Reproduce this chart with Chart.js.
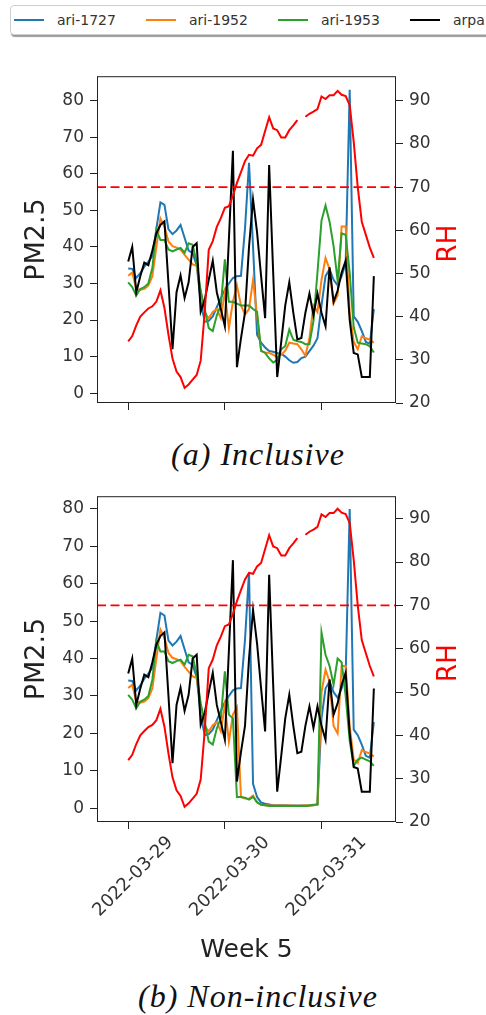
<!DOCTYPE html>
<html>
<head>
<meta charset="utf-8">
<script src="https://cdn.jsdelivr.net/npm/chart.js@4.4.1/dist/chart.umd.min.js"></script>
<style>
  body { margin: 0; width: 486px; height: 1015px; background: #fff; position: relative; overflow: hidden; font-family: 'DejaVu Sans', sans-serif; }
  #legend { position: absolute; left: 10px; top: 5px; width: 530px; height: 30px; border: 1px solid #cfcfcf; border-radius: 4px;
            box-shadow: 1px 2px 1px #9a9a9a; display: flex; align-items: center; padding-left: 3px; box-sizing: border-box; background: #fff; }
  .item { display: flex; align-items: center; width: 132px; flex: none; }
  .item .line { width: 30px; height: 2px; margin-right: 13px; }
  .item .txt { font-size: 14px; color: #333; }
  canvas { position: absolute; left: 0; }
  .cap { position: absolute; left: 0; width: 516px; text-align: center; font-family: 'Liberation Serif', serif;
         font-style: italic; font-size: 32px; letter-spacing: 1px; color: #111; line-height: 1; }
</style>
</head>
<body>
<div id="legend"></div>
<canvas id="chartA" width="486" height="360" style="top:60px"></canvas>
<div class="cap" style="top:438px">(a) Inclusive</div>
<canvas id="chartB" width="486" height="485" style="top:480px"></canvas>
<div class="cap" style="top:980px">(b) Non-inclusive</div>

<script>
// heures depuis 2022-03-29 00:00
const hours = [0,1,2,3,4,5,6,7,8,9,10,11,12,13,14,15,16,17,18,19,20,21,22,23,24,25,26,27,28,29,
  30,31,32,33,34,35,36,37,38,39,40,41,42,43,44,45,46,47,48,49,50,51,52,53,54,55,56,57,58,59,60,61];
const dayTicks = [0, 24, 48];
const dayLabels = ['2022-03-29', '2022-03-30', '2022-03-31'];
const pmTicks = [0, 10, 20, 30, 40, 50, 60, 70, 80];
const rhTicks = [20, 30, 40, 50, 60, 70, 80, 90];

const seriesNames = ['ari-1727', 'ari-1952', 'ari-1953', 'arpa'];
const seriesColors = ['#1f77b4', '#ff7f0e', '#2ca02c', '#000000'];
const rhColor = '#ff0000';
const rhThreshold = 70;

// (a) Inclusive
const blueA = [34.1,34,31.5,32.8,34.6,36,37.5,45,52.2,51.5,44.8,43.5,44.5,46,42.5,39,38.3,35,25,19.5,
  19.8,21,23.5,26,28.3,30,31.5,32,32.1,45,63,40,16,13.8,12.5,11.5,11.3,11,10.8,10,
  9,8.3,8.5,9.6,10,11.5,13,15,24,32,33.9,31,29.5,32,35.5,83,21,19.5,17,14,13.5,23];
const orangeA = [32.1,33,28.5,28.2,28.5,29.4,32,40,47.8,45.5,41.5,40.2,39.8,39.3,37.8,36.5,35.2,34.8,27.6,22,
  20.5,22.2,23,20.5,27.6,17.8,25,29.5,24,21.5,23,31,21.3,11.5,11.1,11,10.5,9.8,10.5,11.6,
  13.8,13.6,13.4,12,10.2,15,24,22.2,31,37,33.9,24.5,26.7,45.6,45.6,22,14,12,15.5,15,14.6,13.8];
const greenA = [30.3,29,26.7,28.5,29,30,34.3,44.6,41.9,41.9,39.3,38.8,39.3,39.7,38.4,41,40.6,35.7,28,23,
  17.8,17,21.3,24,36.6,25,25,24.5,24,24,24,23,22.2,11.6,11,9.5,8.4,9,12,12.9,
  17.4,14.6,14.2,14,13.4,13.4,19.7,33,47.2,51.3,46.9,40.2,30.8,43.7,43.3,33,18,13.8,13.6,13.4,12.8,11.1];

// (b) Non-inclusive
const blueB = [34.1,34,31.5,32.8,34.6,36,37.5,45,52.2,51.5,44.8,43.5,44.5,46,42.5,39,38.3,35,25,19.5,
  19.8,21,23.5,26,28.3,30,31.5,32,32.1,45,63,6.5,3,1.5,1.2,1,0.8,0.8,0.8,0.8,
  0.7,0.7,0.7,0.7,0.7,0.7,0.8,1,24,32,33.9,31,29.5,32,35.5,80,21,19.5,17,14,13.5,23];
const orangeB = [32.1,33,28.5,28.2,28.5,29.4,32,40,47.8,45.5,41.5,40.2,39.8,39.3,37.8,36.5,35.2,34.8,27.6,22,
  20.5,22.2,23,20.5,27.6,17.8,25,27,3,2.6,2.5,3.4,1.5,0.9,0.8,0.7,0.7,0.7,0.7,0.7,
  0.7,0.7,0.6,0.7,0.7,0.7,0.8,1,31,37,33.9,22,20,38,38,22,13,12,15.5,15,14.6,13.8];
const greenB = [30.3,29,26.7,28.5,29,30,34.3,44.6,41.9,41.9,39.3,38.8,39.3,39.7,38.4,41,40.6,35.7,28,23,
  17.8,17,21.3,24,36.6,25,24,3,3,2.8,2.3,3,1.6,0.9,0.8,0.6,0.6,0.6,0.6,0.6,
  0.6,0.6,0.6,0.6,0.6,0.7,0.9,1,47,41,38,33,40,39,30,18,11.3,13,13.5,13,12.5,11.3];

// commun aux deux
const arpa = [36,40,27.6,32,35.7,35,39,43.7,46,47,30,12,27.6,32.2,26,30.3,40,41,22.3,25.5,
  31,36.2,27.6,23,18.3,42,66.3,7.1,15,22,40,53,44,32,20.5,62.4,33,4.4,14,24,
  30.3,22,14.7,15.1,22,27.2,21.4,27.2,22,18.3,34.4,25,28,33,36.2,20,11,10.6,4.4,4.4,4.4,32];
const rh = [34.3,35.5,38,40,41,41.9,42.4,43.5,46.1,42,35.8,30.3,27.3,26,23.5,24.3,25.4,26.5,29.8,41,
  55.5,57.5,60.8,62.8,65.2,65.6,68,71,73.5,76,77.5,77.3,79,79.8,83,86.2,83.6,83.2,81.5,81.5,
  83.2,84.3,85.5,null,86.3,87,87.5,88.1,91,90.4,91.3,91.3,92.3,91.4,91.1,89,80.5,70,62,59,56,53.6];

const xMin = -7.75, xMax = 66.5;

// legende commune
const legend = document.getElementById('legend');
seriesNames.forEach((name, i) => {
  const it = document.createElement('div');
  it.className = 'item';
  it.innerHTML = '<span class="line" style="background:' + seriesColors[i] + '"></span><span class="txt">' + name + '</span>';
  legend.appendChild(it);
});

// cadre du graphe (spines) + titre RH tourne comme matplotlib
const frame = {
  id: 'frame',
  afterDraw(chart) {
    const { ctx, chartArea: a } = chart;
    ctx.save();
    ctx.strokeStyle = '#222';
    ctx.lineWidth = 1;
    ctx.strokeRect(a.left + 0.5, a.top + 0.5, a.width - 1, a.height - 1);
    ctx.translate(449, (a.top + a.bottom) / 2 + 4);
    ctx.rotate(-Math.PI / 2);
    ctx.fillStyle = rhColor;
    ctx.font = "26px 'DejaVu Sans'";
    ctx.textAlign = 'center';
    ctx.textBaseline = 'middle';
    ctx.fillText('RH', 0, 0);
    ctx.restore();
  }
};

Chart.defaults.font.family = "'DejaVu Sans', sans-serif";

function makeChart(id, pmSeries, cfg) {
  const datasets = pmSeries.map((vals, i) => ({
    label: seriesNames[i],
    data: vals,
    borderColor: seriesColors[i],
    borderWidth: 2,
    pointRadius: 0,
    yAxisID: 'pm',
    order: 6 - i
  }));
  datasets.push({
    label: 'RH', data: rh, borderColor: rhColor, borderWidth: 2,
    pointRadius: 0, yAxisID: 'rh', order: 2
  });
  datasets.push({
    label: 'seuil', data: [{ x: xMin, y: rhThreshold }, { x: xMax, y: rhThreshold }],
    borderColor: rhColor, borderWidth: 1.7, borderDash: [9, 4.5],
    pointRadius: 0, yAxisID: 'rh', order: 1
  });

  return new Chart(document.getElementById(id), {
    type: 'line',
    data: { labels: hours, datasets: datasets },
    options: {
      responsive: false,
      animation: false,
      layout: { padding: { top: cfg.top, left: 0, right: 0, bottom: 0 } },
      plugins: { legend: { display: false }, tooltip: { enabled: false } },
      scales: {
        x: {
          type: 'linear', min: xMin, max: xMax,
          afterBuildTicks: s => { s.ticks = dayTicks.map(v => ({ value: v })); },
          afterFit: s => { s.height = cfg.xHeight; },
          grid: { drawOnChartArea: false, drawTicks: true, tickLength: 7, color: '#222' },
          border: { display: false },
          ticks: {
            display: cfg.dates, autoSkip: false, minRotation: 45, maxRotation: 45,
            font: { size: 18 }, color: '#333', labelOffset: 42, padding: 3,
            callback: (v, i) => dayLabels[i]
          },
          title: { display: cfg.dates, text: 'Week 5', font: { size: 25 }, color: '#222', padding: { bottom: 0 } }
        },
        pm: {
          type: 'linear', position: 'left', min: cfg.pmMin, max: cfg.pmMax, bounds: 'data',
          afterBuildTicks: s => { s.ticks = pmTicks.map(v => ({ value: v })); },
          afterFit: s => { s.width = 97; },
          grid: { drawOnChartArea: false, tickLength: 7, color: '#222' },
          border: { display: false },
          ticks: { font: { size: 17 }, color: '#333', padding: 6 },
          title: { display: true, text: 'PM2.5', font: { size: 27 }, color: '#222', padding: { top: 21 } }
        },
        rh: {
          type: 'linear', position: 'right', min: 20, max: cfg.rhMax, bounds: 'data',
          afterBuildTicks: s => { s.ticks = rhTicks.map(v => ({ value: v })); },
          afterFit: s => { s.width = 90; },
          grid: { drawOnChartArea: false, tickLength: 7, color: '#222' },
          border: { display: false },
          ticks: { font: { size: 17 }, color: '#333', padding: 6 }
        }
      }
    },
    plugins: [frame]
  });
}

makeChart('chartA', [blueA, orangeA, greenA, arpa], { top: 10, xHeight: 17, dates: false, pmMin: -2.7, pmMax: 86.7, rhMax: 95.7 });
makeChart('chartB', [blueB, orangeB, greenB, arpa], { top: 12, xHeight: 143, dates: true, pmMin: -3.7, pmMax: 83.4, rhMax: 95.2 });
</script>
</body>
</html>
